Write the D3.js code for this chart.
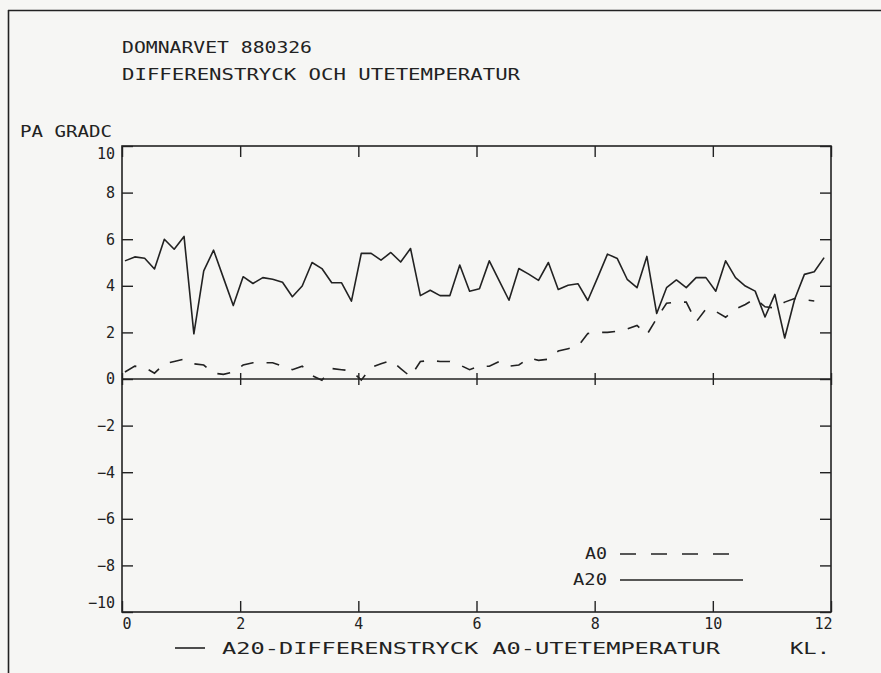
<!DOCTYPE html>
<html><head><meta charset="utf-8">
<script src="https://cdn.jsdelivr.net/npm/d3@7"></script>
<style>
html,body{margin:0;padding:0;background:#f6f6f4;}
svg{display:block;}
text{font-family:"DejaVu Sans Mono",monospace;fill:#222;}
</style></head><body>
<svg id="c" width="881" height="673"></svg>
<script>
// time of each reading, minutes after 00:00
const minutes = [3,13,23,33,43,53,63,73,83,93,
  103,113,123,133,143,153,163,173,183,193,
  203,213,223,233,243,253,263,273,283,293,
  303,313,323,333,343,353,363,373,383,393,
  403,413,423,433,443,453,463,473,483,493,
  503,513,523,533,543,553,563,573,583,593,
  603,613,623,633,643,653,663,673,683,693,
  703,713];
// A20 - differential pressure (Pa)
const A20 = [5.07,5.24,5.18,4.72,6.0,5.57,6.12,1.94,4.64,5.53,
  4.34,3.15,4.39,4.1,4.35,4.28,4.15,3.53,3.99,5.0,
  4.74,4.13,4.13,3.34,5.39,5.39,5.1,5.43,5.02,5.6,
  3.58,3.81,3.58,3.58,4.89,3.77,3.87,5.07,4.22,3.38,
  4.74,4.5,4.23,5.0,3.84,4.02,4.09,3.37,4.35,5.36,
  5.17,4.28,3.92,5.26,2.81,3.92,4.25,3.92,4.35,4.35,
  3.77,5.07,4.35,3.99,3.77,2.66,3.63,1.76,3.41,4.49,
  4.6,5.21];
// A0 - outdoor temperature (deg C)
const A0 = [0.3,0.55,0.5,0.25,0.65,0.75,0.85,0.65,0.6,0.25,
  0.2,0.3,0.6,0.7,0.7,0.7,0.55,0.4,0.55,0.15,
  -0.05,0.45,0.4,0.35,-0.05,0.5,0.65,0.8,0.45,0.1,
  0.75,0.8,0.75,0.75,0.6,0.4,0.55,0.55,0.75,0.55,
  0.6,0.9,0.8,0.85,1.2,1.3,1.4,1.95,2.0,2.0,
  2.05,2.15,2.3,1.9,2.6,3.25,3.3,3.3,2.45,3.0,
  2.9,2.65,3.0,3.2,3.45,3.1,3.05,3.3,3.45,3.4,
  3.35];
const titleLines = ["DOMNARVET 880326", "DIFFERENSTRYCK OCH UTETEMPERATUR"];
const unitLabel = "PA GRADC";
const yTicks = [10,8,6,4,2,0,-2,-4,-6,-8,-10];
const xTicks = [0,2,4,6,8,10,12];
const legendLabels = ["A0", "A20"];
const caption = "A20-DIFFERENSTRYCK A0-UTETEMPERATUR";
const xUnit = "KL.";

const ink = "#222";
const svg = d3.select("#c");
svg.append("rect").attr("width",881).attr("height",673).attr("fill","#f6f6f4");

// paper frame
svg.append("line").attr("x1",8.5).attr("x2",8.5).attr("y1",10).attr("y2",673).attr("stroke",ink).attr("stroke-width",1.6);
svg.append("line").attr("x1",8).attr("x2",881).attr("y1",10.5).attr("y2",10.5).attr("stroke",ink).attr("stroke-width",1.6);

const x = d3.scaleLinear().domain([0,12]).range([122,831]);
const y = d3.scaleLinear().domain([-10,10]).range([612,146]);

// titles
titleLines.forEach((t,i)=>{
  svg.append("text").attr("x",122).attr("y",53+i*27).attr("font-size",16)
    .attr("textLength", i===0?190:398).attr("lengthAdjust","spacingAndGlyphs").text(t);
});
svg.append("text").attr("x",20).attr("y",137).attr("font-size",15)
  .attr("textLength",92).attr("lengthAdjust","spacingAndGlyphs").text(unitLabel);

// axes
function clean(g){ g.select(".domain").remove(); g.selectAll("line").attr("stroke",ink).attr("stroke-width",1.4); g.selectAll("text").attr("font-family",'"DejaVu Sans Mono",monospace').attr("font-size",15).attr("fill",ink); }
const gl = svg.append("g").attr("transform",`translate(${x(0)},0)`)
  .call(d3.axisLeft(y).tickValues(yTicks).tickSize(-11).tickPadding(7).tickFormat(d=>d<0?"−"+Math.abs(d):String(d))).call(clean);
gl.selectAll(".tick text").attr("y", d => d===10 ? 8 : d===-10 ? -9 : 0);
svg.append("g").attr("transform",`translate(${x(12)},0)`)
  .call(d3.axisRight(y).tickValues(yTicks).tickSize(-11).tickFormat("")).call(clean);
svg.append("g").attr("transform",`translate(0,${y(10)})`)
  .call(d3.axisTop(x).tickValues(xTicks).tickSize(-11).tickFormat("")).call(clean);
const gb = svg.append("g").attr("transform",`translate(0,${y(-10)})`)
  .call(d3.axisBottom(x).tickValues(xTicks).tickSize(-11).tickPadding(6).tickFormat(d=>String(d))).call(clean);
gb.selectAll(".tick text").attr("text-anchor", d => d===0 ? "start" : d===12 ? "end" : "middle")
  .attr("x", d => d===12 ? 1 : 0);
// zero axis with crossing ticks
svg.append("g").attr("transform",`translate(0,${y(0)})`)
  .call(d3.axisBottom(x).tickValues(xTicks).tickSizeInner(6).tickSizeOuter(0).tickFormat("")).call(clean)
  .selectAll(".tick line").attr("y1",-6).attr("y2",6);
svg.append("line").attr("x1",x(0)).attr("x2",x(12)).attr("y1",y(0)).attr("y2",y(0)).attr("stroke",ink).attr("stroke-width",1.6);

// frame
svg.append("rect").attr("x",x(0)).attr("y",y(10)).attr("width",x(12)-x(0)).attr("height",y(-10)-y(10))
  .attr("fill","none").attr("stroke",ink).attr("stroke-width",1.6);

// series
const line = d3.line().x(d=>x(d[0]/60)).y(d=>y(d[1]));
svg.append("path").datum(A20.map((v,i)=>[minutes[i],v])).attr("d",line)
  .attr("fill","none").attr("stroke",ink).attr("stroke-width",1.6).attr("stroke-linejoin","round");
svg.append("path").datum(A0.map((v,i)=>[minutes[i],v])).attr("d",line)
  .attr("fill","none").attr("stroke",ink).attr("stroke-width",1.6).attr("stroke-dasharray","13,13");

// legend
const ly = [554, 580];
legendLabels.forEach((t,i)=>{
  svg.append("text").attr("x",607).attr("y",ly[i]+5).attr("text-anchor","end").attr("font-size",15)
    .attr("textLength", i===0?22:34).attr("lengthAdjust","spacingAndGlyphs").text(t);
  svg.append("line").attr("x1",620).attr("x2",i===0?729:743).attr("y1",ly[i]).attr("y2",ly[i])
    .attr("stroke",ink).attr("stroke-width",1.6).attr("stroke-dasharray",i===0?"16,15":null);
});

// caption
svg.append("line").attr("x1",175).attr("x2",205).attr("y1",648).attr("y2",648).attr("stroke",ink).attr("stroke-width",1.6);
svg.append("text").attr("x",222).attr("y",654).attr("font-size",16).attr("textLength",498).attr("lengthAdjust","spacingAndGlyphs").text(caption);
svg.append("text").attr("x",790).attr("y",654).attr("font-size",16).attr("textLength",40).attr("lengthAdjust","spacingAndGlyphs").text(xUnit);
</script></body></html>
